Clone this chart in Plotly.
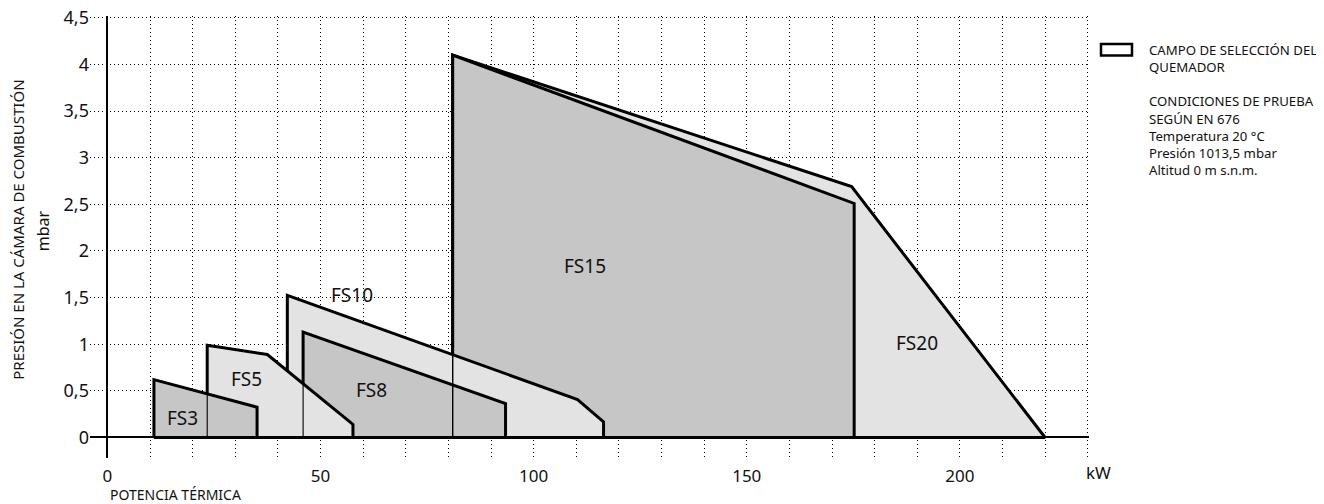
import plotly.graph_objects as go

# ---------------- data ----------------
fs20_kw = [81.0, 81.0, 174.6, 220.0]
fs20_mbar = [0.0, 4.10, 2.69, 0.0]
fs15_kw = [81.0, 81.0, 175.2, 175.2]
fs15_mbar = [0.0, 4.10, 2.51, 0.0]
fs10_kw = [42.2, 42.2, 110.3, 116.4, 116.4]
fs10_mbar = [0.0, 1.525, 0.407, 0.167, 0.0]
fs8_kw = [45.9, 45.9, 93.4, 93.4]
fs8_mbar = [0.0, 1.13, 0.364, 0.0]
fs5_kw = [23.4, 23.4, 37.5, 57.6, 57.6]
fs5_mbar = [0.0, 0.99, 0.89, 0.14, 0.0]
fs3_kw = [10.9, 10.9, 35.1, 35.1]
fs3_mbar = [0.0, 0.62, 0.325, 0.0]

model_names = ["FS20", "FS15", "FS10", "FS8", "FS5", "FS3"]   # drawing order
model_kw = [fs20_kw, fs15_kw, fs10_kw, fs8_kw, fs5_kw, fs3_kw]
model_mbar = [fs20_mbar, fs15_mbar, fs10_mbar, fs8_mbar, fs5_mbar, fs3_mbar]
model_fill = ["#e3e3e3", "#c6c6c6", "#e3e3e3", "#c6c6c6", "#e3e3e3", "#c6c6c6"]
# models whose hidden edges still show as thin lines through the fields above them
thin_outline = ["FS20", "FS15", "FS8", "FS5", "FS3"]

label_kw = [189.9, 112.1, 57.4, 61.9, 32.6, 17.7]
label_mbar = [1.01, 1.835, 1.525, 0.51, 0.632, 0.214]

legend_text = ("CAMPO DE SELECCIÓN DEL<br>QUEMADOR<br><br>CONDICIONES DE PRUEBA<br>"
               "SEGÚN EN 676<br>Temperatura 20 °C<br>Presión 1013,5 mbar<br>Altitud 0 m s.n.m.")
y_title = "PRESIÓN EN LA CÁMARA DE COMBUSTIÓN"
y_unit = "mbar"
x_title = "POTENCIA TÉRMICA"
x_unit = "kW"

# ---------------- layout geometry ----------------
# the page body has an 8px default margin, so the figure is shifted by OFF
OFF = 8
W, H = 1324 - OFF, 504 - OFF
ML, MR, MT, MB = 90 - OFF, 235, 15.5 - OFF, 46
PW, PH = W - ML - MR, H - MT - MB


def px_x(px):
    return (px - OFF - ML) / PW


def px_y(py):
    return (H - MB - (py - OFF)) / PH


FONT = "Noto Sans"
INK = "#111111"

fig = go.Figure()

# filled polygons with thick outline
for name, xs, ys, col in zip(model_names, model_kw, model_mbar, model_fill):
    fig.add_trace(go.Scatter(
        x=xs + [xs[0]], y=ys + [ys[0]], mode="lines", fill="toself",
        fillcolor=col, line=dict(color="black", width=3), name=name,
        showlegend=False, hoverinfo="skip"))

# thin outlines on top
for name, xs, ys in zip(model_names, model_kw, model_mbar):
    if name in thin_outline:
        fig.add_trace(go.Scatter(
            x=xs + [xs[0]], y=ys + [ys[0]], mode="lines",
            line=dict(color="black", width=1.1), showlegend=False, hoverinfo="skip"))

# model labels
for name, lx, ly in zip(model_names, label_kw, label_mbar):
    fig.add_annotation(x=lx, y=ly, xref="x", yref="y", text=name, showarrow=False,
                       font=dict(family=FONT, size=19, color=INK),
                       xanchor="center", yanchor="middle")

grid = dict(gridcolor="black", gridwidth=1, griddash="1px,3px")

fig.update_xaxes(range=[-4.1, 230.3], tickmode="linear", tick0=0, dtick=50,
                 showgrid=True, **grid,
                 minor=dict(tickmode="linear", tick0=0, dtick=10, showgrid=True, **grid),
                 zeroline=True, zerolinecolor="black", zerolinewidth=2,
                 showline=False, ticks="", automargin=False, ticklabelstandoff=6,
                 ticklabeloverflow="allow",
                 tickfont=dict(family=FONT, size=17, color=INK))
fig.update_yaxes(range=[-0.22, 4.52], tickmode="linear", tick0=0, dtick=0.5,
                 showgrid=True, **grid,
                 zeroline=True, zerolinecolor="black", zerolinewidth=1.5,
                 showline=False, ticks="", automargin=False,
                 ticklabeloverflow="allow",
                 tickfont=dict(family=FONT, size=18, color=INK))

# axis titles
fig.add_annotation(x=px_x(18.5), y=px_y(230), xref="paper", yref="paper", text=y_title,
                   textangle=-90, showarrow=False, xanchor="center", yanchor="middle",
                   font=dict(family=FONT, size=15, color=INK))
fig.add_annotation(x=px_x(43), y=px_y(231), xref="paper", yref="paper", text=y_unit,
                   textangle=-90, showarrow=False, xanchor="center", yanchor="middle",
                   font=dict(family=FONT, size=16, color=INK))
fig.add_annotation(x=px_x(108), y=px_y(495), xref="paper", yref="paper", text=x_title,
                   showarrow=False, xanchor="left", yanchor="middle",
                   font=dict(family=FONT, size=14, color=INK))
fig.add_annotation(x=px_x(1098), y=px_y(473), xref="paper", yref="paper", text=x_unit,
                   showarrow=False, xanchor="center", yanchor="middle",
                   font=dict(family=FONT, size=17, color=INK))

# legend block
fig.add_shape(type="rect", xref="paper", yref="paper",
              x0=px_x(1101), x1=px_x(1132), y0=px_y(55), y1=px_y(43.5),
              line=dict(color="black", width=2.5), fillcolor="white")
fig.add_annotation(x=px_x(1147), y=px_y(38.5), xref="paper", yref="paper", text=legend_text,
                   showarrow=False, xanchor="left", yanchor="top", align="left",
                   font=dict(family=FONT, size=13.2, color=INK))

fig.update_layout(width=W, height=H,
                  margin=dict(l=ML, r=MR, t=MT, b=MB, autoexpand=False),
                  plot_bgcolor="white", paper_bgcolor="white",
                  separators=",.", showlegend=False)

fig.write_html("out.html")
